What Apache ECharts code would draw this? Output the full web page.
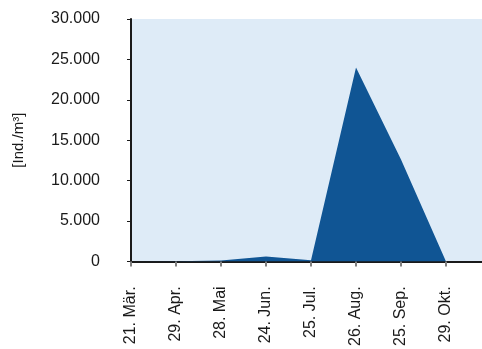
<!DOCTYPE html>
<html><head><meta charset="utf-8">
<script src="https://cdn.jsdelivr.net/npm/echarts@6/dist/echarts.min.js"></script>
<style>html,body{margin:0;padding:0;background:#fff}#c{width:482px;height:349px}</style>
</head><body><div id="c"></div>
<script>
var categories = ['21. Mär.', '29. Apr.', '28. Mai', '24. Jun.', '25. Jul.', '26. Aug.', '25. Sep.', '29. Okt.'];
var values = [0, 20, 120, 600, 150, 24000, 12600, 0];
var yTicks = [0, 5000, 10000, 15000, 20000, 25000, 30000];
var idx = categories.map(function (c, i) { return i; });

function fmt(v) { return String(v).replace(/\B(?=(\d{3})+(?!\d))/g, '.'); }

var chart = echarts.init(document.getElementById('c'));
chart.setOption({
  animation: false,
  textStyle: { fontFamily: 'Liberation Sans, Arial, sans-serif' },
  grid: { left: 131, top: 19, right: 0, bottom: 87, show: true, backgroundColor: '#deebf7', borderWidth: 0 },
  xAxis: {
    type: 'value', min: 0, max: 7.8, interval: 1,
    splitLine: { show: false },
    axisLine: { show: true, lineStyle: { color: '#1a1a1a', width: 2 } },
    axisTick: { show: true, length: 5, customValues: idx, lineStyle: { color: '#808080', width: 2 } },
    axisLabel: { customValues: idx, rotate: 90, margin: 25, fontSize: 16, color: '#1a1a1a',
      formatter: function (v) { return categories[Math.round(v)] || ''; } }
  },
  yAxis: {
    type: 'value', min: yTicks[0], max: yTicks[yTicks.length - 1], interval: yTicks[1] - yTicks[0],
    name: '[Ind./m³]', nameLocation: 'middle', nameGap: 105, nameRotate: 90,
    nameTextStyle: { fontSize: 15, color: '#1a1a1a' },
    splitLine: { show: false },
    axisLine: { show: true, lineStyle: { color: '#1a1a1a', width: 2 } },
    axisTick: { show: true, length: 4, lineStyle: { color: '#1a1a1a' } },
    axisLabel: { margin: 31, fontSize: 16, color: '#1a1a1a', formatter: function (v) { return fmt(v); } }
  },
  series: [{
    type: 'line', data: values.map(function (v, i) { return [idx[i], v]; }),
    symbol: 'none', lineStyle: { width: 0 },
    areaStyle: { color: '#105594', opacity: 1 }
  }]
});
</script></body></html>
